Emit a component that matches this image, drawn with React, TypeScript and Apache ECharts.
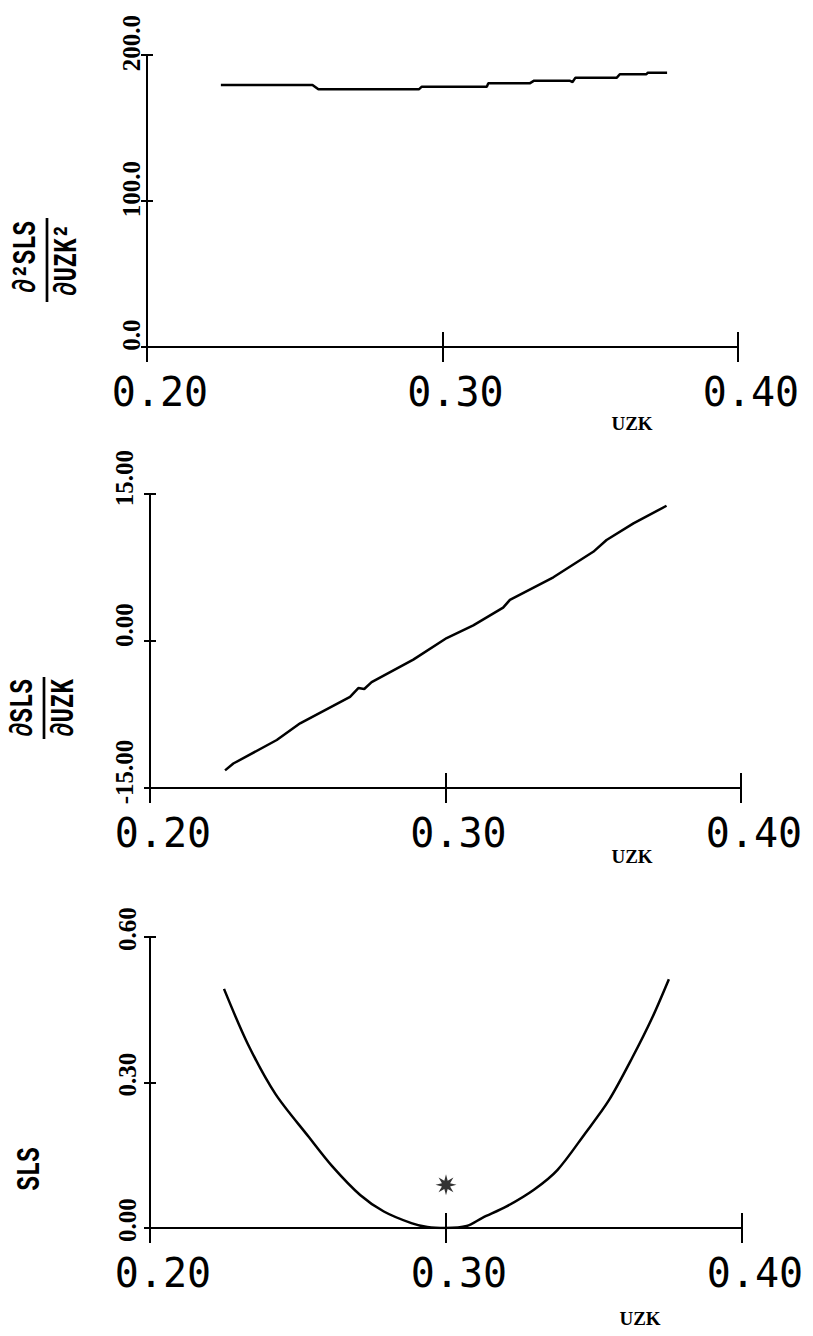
import React, { useEffect, useRef } from "react";
import * as echarts from "echarts";

// ---- data ----
const xMin = 0.2;
const xMax = 0.4;
const xInterval = 0.1;

// top panel: second derivative d2SLS/dUZK2
const d2X = [0.225, 0.256, 0.258, 0.292, 0.293, 0.315, 0.3155, 0.3295, 0.331, 0.343, 0.344, 0.345, 0.359, 0.36, 0.369, 0.3695, 0.376];
const d2Y = [179.5, 179.5, 176.5, 176.5, 178.3, 178.3, 180.6, 180.6, 182.4, 182.4, 181.5, 184.5, 184.5, 186.8, 186.8, 187.9, 187.9];

// middle panel: first derivative dSLS/dUZK
const d1X = [0.2254, 0.2282, 0.2429, 0.2508, 0.2677, 0.2705, 0.2725, 0.275, 0.2891, 0.3004, 0.3094, 0.3195, 0.3218, 0.3365, 0.35, 0.3545, 0.3636, 0.3748];
const d1Y = [-13.2, -12.5, -10.1, -8.4, -5.7, -4.8, -4.9, -4.2, -1.9, 0.3, 1.6, 3.4, 4.2, 6.5, 9.1, 10.3, 12.0, 13.8];

// bottom panel: SLS
const slsX = [0.225, 0.233, 0.2423, 0.2536, 0.2616, 0.271, 0.279, 0.2883, 0.2937, 0.3, 0.307, 0.3123, 0.3203, 0.3297, 0.3377, 0.347, 0.355, 0.363, 0.3697, 0.3753];
const slsY = [0.493, 0.38, 0.277, 0.188, 0.127, 0.068, 0.034, 0.01, 0.002, 0.0, 0.004, 0.021, 0.044, 0.079, 0.12, 0.195, 0.263, 0.352, 0.434, 0.513];

// marked point
const starX = [0.3];
const starY = [0.089];

// y axis ranges
const yRanges = [
  { min: 0, max: 200, interval: 100, digits: 1 },
  { min: -15, max: 15, interval: 15, digits: 2 },
  { min: 0, max: 0.6, interval: 0.3, digits: 2 },
];

function starPath(): string {
  const pts: string[] = [];
  const n = 8;
  for (let k = 0; k < n * 2; k++) {
    const a = (k * Math.PI) / n;
    const r = k % 2 === 0 ? 10 : 4.2;
    pts.push(`${(Math.sin(a) * r).toFixed(2)} ${(-Math.cos(a) * r).toFixed(2)}`);
  }
  return "path://M " + pts.join(" L ") + " Z";
}

const zip = (xs: number[], ys: number[]) => xs.map((x, i) => [x, ys[i]]);

export default function App() {
  const ref = useRef<HTMLDivElement>(null);
  useEffect(() => {
    if (!ref.current) return;
    const chart = echarts.init(ref.current, undefined, { renderer: "svg" });
    const grids = [
      { left: 147, top: 55, width: 591, height: 292 },
      { left: 150, top: 494, width: 591, height: 294 },
      { left: 150, top: 937, width: 592, height: 291 },
    ];
    const yLabelMargin = [3, 13, 10];
    const yLabelShift = [24, 32, 16];
    const axisLineStyle = { color: "#000", width: 2 };
    const xAxes: any[] = [];
    const yAxes: any[] = [];
    grids.forEach((_, i) => {
      xAxes.push({
        type: "value",
        gridIndex: i,
        min: xMin,
        max: xMax,
        interval: xInterval,
        position: "bottom",
        axisLine: { show: true, onZero: false, lineStyle: axisLineStyle },
        axisTick: { show: true, length: 15, lineStyle: axisLineStyle },
        axisLabel: {
          margin: 25,
          formatter: (v: number) => v.toFixed(2),
          fontFamily: "DejaVu Sans Mono",
          fontSize: 40,
          color: "#000",
          align: "center",
          padding: [0, 0, 0, 26],
        },
        splitLine: { show: false },
      });
      xAxes.push({
        type: "value",
        gridIndex: i,
        min: xMin,
        max: xMax,
        interval: xInterval,
        position: "bottom",
        axisLine: { show: false, onZero: false },
        axisTick: { show: true, inside: true, length: 15, lineStyle: axisLineStyle },
        axisLabel: { show: false },
        splitLine: { show: false },
      });
      const r = yRanges[i];
      yAxes.push({
        type: "value",
        gridIndex: i,
        min: r.min,
        max: r.max,
        interval: r.interval,
        position: "left",
        axisLine: { show: true, onZero: false, lineStyle: axisLineStyle },
        axisTick: { show: true, length: 6, lineStyle: axisLineStyle },
        axisLabel: {
          rotate: 90,
          align: "center",
          verticalAlign: "bottom",
          padding: [0, 0, 0, yLabelShift[i]],
          margin: yLabelMargin[i],
          fontFamily: "Liberation Serif",
          fontWeight: "bold",
          fontSize: 25,
          color: "#000",
          formatter: (v: number) => v.toFixed(r.digits),
        },
        splitLine: { show: false },
      });
      yAxes.push({
        type: "value",
        gridIndex: i,
        min: r.min,
        max: r.max,
        interval: r.interval,
        position: "left",
        axisLine: { show: false, onZero: false },
        axisTick: { show: true, inside: true, length: 6, lineStyle: axisLineStyle },
        axisLabel: { show: false },
        splitLine: { show: false },
      });
    });

    const lineSeries = (xi: number, data: number[][], smooth: number | boolean) => ({
      type: "line",
      xAxisIndex: xi,
      yAxisIndex: xi,
      data,
      showSymbol: false,
      symbol: "none",
      smooth,
      lineStyle: { color: "#000", width: 2.5 },
      silent: true,
    });

    const nameFont = 'bold 24px "Liberation Mono"';
    const uzkFont = 'bold 19px "Liberation Serif"';
    const txt = (text: string, x: number, y: number, font: string, va: string) => ({
      type: "text",
      x,
      y,
      style: {
        text,
        font,
        fill: "#000",
        textAlign: "center",
        align: "center",
        textVerticalAlign: va,
        verticalAlign: va,
      },
    });

    chart.setOption({
      animation: false,
      backgroundColor: "#fff",
      grid: grids,
      xAxis: xAxes,
      yAxis: yAxes,
      series: [
        lineSeries(0, zip(d2X, d2Y), false),
        lineSeries(2, zip(d1X, d1Y), false),
        lineSeries(4, zip(slsX, slsY), 0.3),
        {
          type: "scatter",
          xAxisIndex: 4,
          yAxisIndex: 4,
          data: zip(starX, starY),
          symbol: starPath(),
          symbolSize: 21,
          itemStyle: { color: "#000" },
          silent: true,
        },
      ],
      graphic: [
        {
          type: "group",
          x: 47,
          y: 260,
          rotation: Math.PI / 2,
          scaleY: 1.35,
          children: [
            { type: "line", shape: { x1: -42, y1: 0, x2: 42, y2: 0 }, style: { stroke: "#000", lineWidth: 2 } },
            txt("∂²SLS", 3, -3, nameFont, "bottom"),
            txt("∂UZK²", 0, 3, nameFont, "top"),
          ],
        },
        {
          type: "group",
          x: 44,
          y: 708,
          rotation: Math.PI / 2,
          scaleY: 1.35,
          children: [
            { type: "line", shape: { x1: -31, y1: 0, x2: 31, y2: 0 }, style: { stroke: "#000", lineWidth: 2 } },
            txt("∂SLS", 0, -3, nameFont, "bottom"),
            txt("∂UZK", 0, 3, nameFont, "top"),
          ],
        },
        {
          type: "group",
          x: 30,
          y: 1169,
          rotation: Math.PI / 2,
          scaleY: 1.35,
          children: [txt("SLS", 0, 0, nameFont, "middle")],
        },
        txt("UZK", 632, 423, uzkFont, "middle"),
        txt("UZK", 632, 856, uzkFont, "middle"),
        txt("UZK", 640, 1318, uzkFont, "middle"),
      ],
    });
    return () => chart.dispose();
  }, []);
  return (
    <div
      ref={ref}
      style={{ position: "fixed", left: 0, top: 0, width: 813, height: 1336, background: "#fff" }}
    />
  );
}
